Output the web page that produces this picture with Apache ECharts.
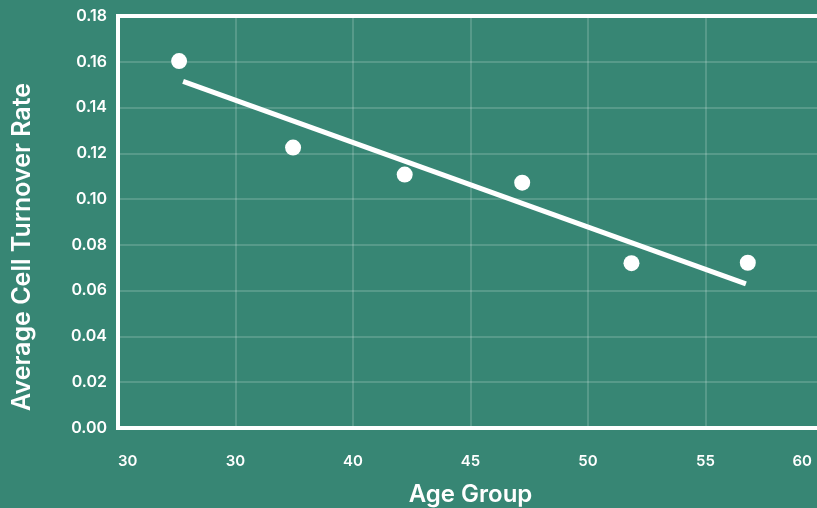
<!DOCTYPE html>
<html><head><meta charset="utf-8">
<script src="https://cdn.jsdelivr.net/npm/echarts@6/dist/echarts.min.js"></script>
<style>html,body{margin:0;padding:0;background:#378674;}#c{width:817px;height:508px;}</style>
</head><body><div id="c"></div>
<script>
const ageX = [27.6, 32.45, 37.2, 42.2, 46.85, 51.8];
const turnover = [0.1603, 0.1225, 0.1107, 0.1072, 0.0720, 0.0722];
const trendX = [27.77, 51.72];
const trendY = [0.1514, 0.0630];
const xTickValues = [25, 30, 35, 40, 45, 50, 55];
const xTickLabels = ['30', '30', '40', '45', '50', '55', '60'];
const yTickLabels = ['0.00','0.02','0.04','0.06','0.08','0.10','0.12','0.14','0.16','0.18'];

const font = 'Inter, "Noto Sans", sans-serif';
const chart = echarts.init(document.getElementById('c'));
chart.setOption({
  backgroundColor: '#378674',
  animation: false,
  grid: {left: 118, top: 16, right: -6, bottom: 80, containLabel: false, outerBoundsMode: 'none',
         show: true, borderColor: '#ffffff', borderWidth: 4, backgroundColor: 'transparent'},
  xAxis: {
    type: 'value', min: 25, max: 55, interval: 5,
    name: 'Age Group', nameLocation: 'middle', nameGap: 55,
    nameTextStyle: {color: '#fff', fontSize: 24, fontWeight: 600, fontFamily: font},
    axisLine: {show: false}, axisTick: {show: false},
    splitLine: {show: true, lineStyle: {color: 'rgba(255,255,255,0.22)', width: 1.5}},
    axisLabel: {
      color: '#fff', fontSize: 15, fontWeight: 600, fontFamily: font, margin: 26,
      alignMinLabel: 'left', alignMaxLabel: 'right',
      formatter: function (v) {
        const i = xTickValues.indexOf(Math.round(v));
        const t = i >= 0 ? xTickLabels[i] : '';
        return i === xTickValues.length - 1 ? '{m|' + t + '}' : t;
      },
      rich: {m: {color: '#fff', fontSize: 15, fontWeight: 600, fontFamily: font, padding: [0, 11, 6, 0]}}
    }
  },
  yAxis: {
    type: 'value', min: 0, max: 0.18, interval: 0.02,
    name: 'Average Cell Turnover Rate', nameLocation: 'middle', nameGap: 83,
    nameTextStyle: {color: '#fff', fontSize: 25, fontWeight: 600, fontFamily: font, padding: [0, 50, 0, 0]},
    axisLine: {show: false}, axisTick: {show: false},
    splitLine: {show: true, lineStyle: {color: 'rgba(255,255,255,0.22)', width: 1.5}},
    axisLabel: {
      color: '#fff', fontSize: 16, fontWeight: 600, fontFamily: font, margin: 11,
      formatter: function (v) { return yTickLabels[Math.round(v / 0.02)]; }
    }
  },
  series: [
    {
      type: 'line', data: trendX.map((x, i) => [x, trendY[i]]),
      symbol: 'none', lineStyle: {color: '#fff', width: 5}, z: 2
    },
    {
      type: 'scatter', data: ageX.map((x, i) => [x, turnover[i]]),
      symbolSize: 16, itemStyle: {color: '#fff', opacity: 1}, z: 3
    }
  ]
});
</script></body></html>
